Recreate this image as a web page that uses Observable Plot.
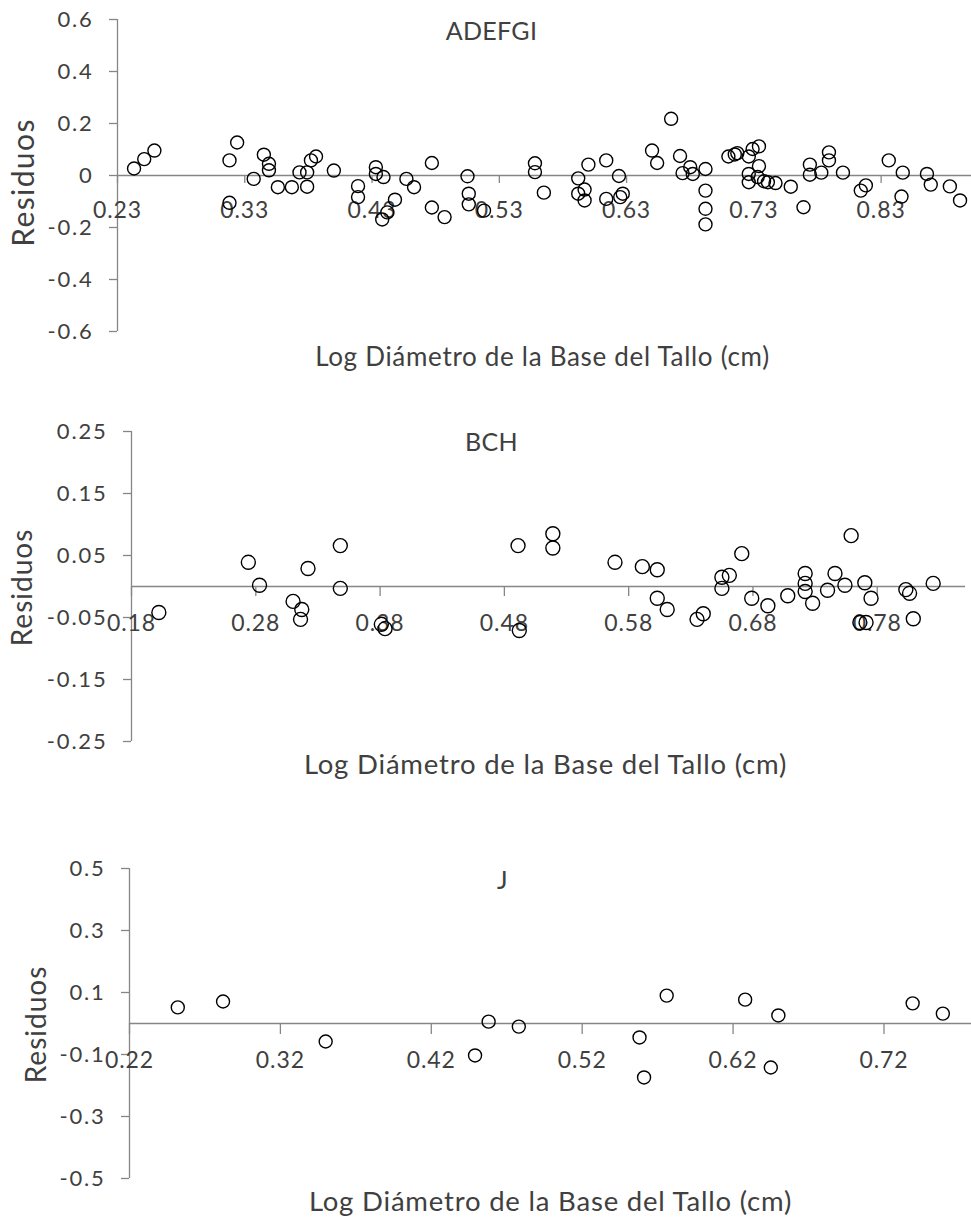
<!DOCTYPE html>
<html>
<head>
<meta charset="utf-8">
<script src="https://cdn.jsdelivr.net/npm/d3@7"></script>
<script src="https://cdn.jsdelivr.net/npm/@observablehq/plot@0.6"></script>
<style>
  html, body { margin: 0; padding: 0; background: #fff; }
  #wrap { position: relative; width: 971px; height: 1217px; overflow: hidden; background: #fff; }
  #wrap > div { position: absolute; left: 0; }
  svg { overflow: visible; }
</style>
</head>
<body>
<div id="wrap">
  <div id="p1" style="top:0px"></div>
  <div id="p2" style="top:400px"></div>
  <div id="p3" style="top:800px"></div>
</div>
<script>
// ---------- Data ----------
const xTitle = "Log Diámetro de la Base del Tallo (cm)";
const yTitle = "Residuos";

// Panel ADEFGI
const adefgiName = "ADEFGI";
const adefgiXTicks = [0.23, 0.33, 0.43, 0.53, 0.63, 0.73, 0.83];
const adefgiYTicks = [0.6, 0.4, 0.2, 0, -0.2, -0.4, -0.6];
const adefgiX = [0.243, 0.251, 0.259, 0.318, 0.324, 0.318, 0.337, 0.345, 0.349, 0.349,
  0.356, 0.367, 0.373, 0.379, 0.379, 0.382, 0.386, 0.400, 0.419, 0.419,
  0.433, 0.433, 0.439, 0.438, 0.442, 0.448, 0.457, 0.463, 0.477, 0.477,
  0.487, 0.505, 0.506, 0.506, 0.518, 0.558, 0.558, 0.565, 0.592, 0.592,
  0.597, 0.597, 0.600, 0.614, 0.614, 0.624, 0.625, 0.627, 0.650, 0.654,
  0.665, 0.672, 0.674, 0.680, 0.682, 0.692, 0.692, 0.692, 0.692, 0.710,
  0.715, 0.717, 0.726, 0.729, 0.734, 0.734, 0.726, 0.726, 0.733, 0.738,
  0.741, 0.747, 0.759, 0.769, 0.774, 0.774, 0.783, 0.789, 0.789, 0.800,
  0.814, 0.818, 0.836, 0.847, 0.846, 0.866, 0.869, 0.884, 0.892];
const adefgiY = [0.027, 0.063, 0.096, 0.058, 0.127, -0.105, -0.013, 0.080, 0.045, 0.020,
  -0.045, -0.045, 0.012, -0.043, 0.012, 0.058, 0.073, 0.019, -0.041, -0.083,
  0.032, 0.006, -0.006, -0.169, -0.142, -0.093, -0.013, -0.045, 0.048, -0.123,
  -0.160, -0.003, -0.070, -0.111, -0.135, 0.047, 0.013, -0.066, -0.011, -0.070,
  -0.054, -0.096, 0.042, 0.058, -0.090, -0.002, -0.083, -0.070, 0.096, 0.048,
  0.218, 0.075, 0.009, 0.032, 0.006, 0.025, -0.058, -0.128, -0.188, 0.073,
  0.081, 0.086, 0.073, 0.102, 0.112, 0.036, 0.006, -0.026, -0.006, -0.022,
  -0.026, -0.029, -0.043, -0.122, 0.042, 0.003, 0.011, 0.089, 0.058, 0.011,
  -0.058, -0.038, 0.058, 0.011, -0.081, 0.006, -0.035, -0.042, -0.096];

// Panel BCH
const bchName = "BCH";
const bchXTicks = [0.18, 0.28, 0.38, 0.48, 0.58, 0.68, 0.78];
const bchYTicks = [0.25, 0.15, 0.05, -0.05, -0.15, -0.25];
const bchX = [0.202, 0.274, 0.283, 0.310, 0.317, 0.316, 0.322, 0.348, 0.348, 0.381,
  0.384, 0.491, 0.492, 0.519, 0.519, 0.569, 0.591, 0.603, 0.603, 0.611,
  0.635, 0.640, 0.655, 0.655, 0.661, 0.671, 0.679, 0.692, 0.708, 0.722,
  0.722, 0.722, 0.728, 0.740, 0.746, 0.754, 0.759, 0.770, 0.775, 0.766,
  0.771, 0.803, 0.806, 0.809, 0.825];
const bchY = [-0.042, 0.039, 0.002, -0.024, -0.037, -0.053, 0.029, 0.066, -0.003, -0.061,
  -0.068, 0.066, -0.071, 0.085, 0.062, 0.039, 0.032, 0.027, -0.019, -0.037,
  -0.053, -0.044, 0.015, -0.003, 0.018, 0.053, -0.019, -0.031, -0.015, 0.021,
  0.005, -0.008, -0.027, -0.006, 0.021, 0.002, 0.082, 0.006, -0.019, -0.058,
  -0.058, -0.005, -0.011, -0.052, 0.005];

// Panel J
const jName = "J";
const jXTicks = [0.22, 0.32, 0.42, 0.52, 0.62, 0.72];
const jYTicks = [0.5, 0.3, 0.1, -0.1, -0.3, -0.5];
const jX = [0.252, 0.282, 0.350, 0.449, 0.458, 0.478, 0.558, 0.561, 0.576, 0.628, 0.650, 0.645, 0.739, 0.759];
const jY = [0.052, 0.071, -0.058, -0.103, 0.006, -0.010, -0.045, -0.174, 0.090, 0.077, 0.026, -0.142, 0.065, 0.032];

// ---------- Drawing ----------
const FONT = "Lato, 'Open Sans', sans-serif";
const AXIS_GRAY = "#868686";
const TEXT = "#404040";

// letter spacing applied per font size after rendering (reference text is wide)
const spacingBySize = {"22": "1.8px", "23": "0.9px", "26": "0.7px", "27.5": "0.8px", "28": "1px", "30": "1.4px", "25": "0.3px"};

function panel(cfg) {
  const data = cfg.xs.map((x, i) => ({x, y: cfg.ys[i]}));
  const x0 = cfg.xDomain[0];
  const svg = Plot.plot({
    width: 971,
    height: cfg.height,
    marginTop: cfg.marginTop,
    marginBottom: cfg.marginBottom,
    marginLeft: cfg.marginLeft,
    marginRight: cfg.marginRight,
    style: {fontFamily: FONT, color: TEXT, background: "white", overflow: "visible"},
    x: {domain: cfg.xDomain, axis: null},
    y: {domain: cfg.yDomain, axis: null},
    marks: [
      Plot.ruleX([x0], {stroke: AXIS_GRAY, strokeWidth: 1.3}),
      Plot.axisY({
        ticks: cfg.yTicks, tickFormat: d => String(d), tickSize: 8, tickPadding: 16,
        stroke: AXIS_GRAY, fill: TEXT, fontSize: 22, label: null, strokeWidth: 1.3
      }),
      Plot.ruleY([0], {stroke: AXIS_GRAY, strokeWidth: 1.3}),
      Plot.ruleX(cfg.xTicks, {x: d => d, y1: 0, y2: 0, insetBottom: -cfg.xTickLen, stroke: AXIS_GRAY, strokeWidth: 1.3}),
      Plot.text(cfg.xTicks, {x: d => d, y: 0, dy: cfg.xLabelDy, text: d => d.toFixed(2), fontSize: 23, fill: TEXT}),
      Plot.dot(data, {x: "x", y: "y", r: cfg.r, stroke: "black", fill: "none", strokeWidth: 1.4}),
      Plot.text([cfg.name], {frameAnchor: "top", dx: cfg.titleDx, dy: cfg.titleDy, fontSize: 25, fill: TEXT,
        textAnchor: "middle", lineAnchor: "middle"}),
      Plot.text([xTitle], {frameAnchor: "bottom", dx: cfg.xTitleDx, dy: cfg.xTitleDy, fontSize: cfg.xTitleSize, fill: TEXT,
        textAnchor: "middle", lineAnchor: "middle"}),
      Plot.text([yTitle], {frameAnchor: "left", dx: cfg.yTitleDx, dy: cfg.yTitleDyy, rotate: -90, fontSize: cfg.yTitleSize, fill: TEXT,
        textAnchor: "middle", lineAnchor: "middle"})
    ]
  });
  d3.select(svg).selectAll("g[font-size]").each(function() {
    const s = this.getAttribute("font-size");
    if (spacingBySize[s]) this.setAttribute("letter-spacing", spacingBySize[s]);
  });
  return svg;
}

document.getElementById("p1").appendChild(panel({
  name: adefgiName, xs: adefgiX, ys: adefgiY, xTicks: adefgiXTicks, yTicks: adefgiYTicks,
  xDomain: [0.23, 0.901], yDomain: [-0.6, 0.6],
  height: 390, marginTop: 19, marginBottom: 59, marginLeft: 117, marginRight: 0,
  xTickLen: 8, xLabelDy: 35, r: 6.5,
  titleDx: -53, titleDy: 12, xTitleDx: -2, xTitleDy: 26, xTitleSize: 26,
  yTitleDx: -93, yTitleDyy: 7, yTitleSize: 30
}));

document.getElementById("p2").appendChild(panel({
  name: bchName, xs: bchX, ys: bchY, xTicks: bchXTicks, yTicks: bchYTicks,
  xDomain: [0.18, 0.851], yDomain: [-0.25, 0.25],
  height: 400, marginTop: 31, marginBottom: 59, marginLeft: 131, marginRight: 6,
  xTickLen: 10, xLabelDy: 37, r: 7,
  titleDx: -57, titleDy: 11, xTitleDx: -3, xTitleDy: 24, xTitleSize: 27.5,
  yTitleDx: -108, yTitleDyy: 1, yTitleSize: 28
}));

document.getElementById("p3").appendChild(panel({
  name: jName, xs: jX, ys: jY, xTicks: jXTicks, yTicks: jYTicks,
  xDomain: [0.22, 0.778], yDomain: [-0.5, 0.5],
  height: 417, marginTop: 68, marginBottom: 39, marginLeft: 129, marginRight: 0,
  xTickLen: 11, xLabelDy: 37, r: 6.5,
  titleDx: -48, titleDy: 12, xTitleDx: 0, xTitleDy: 24, xTitleSize: 27.5,
  yTitleDx: -92, yTitleDyy: 1, yTitleSize: 28
}));
</script>
</body>
</html>
